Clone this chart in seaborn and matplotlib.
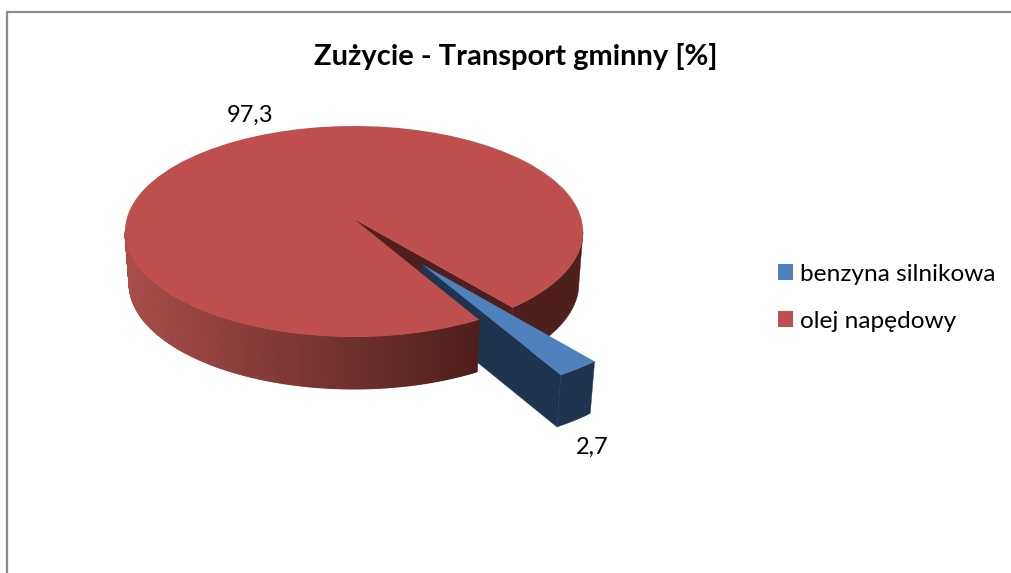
import numpy as np
import matplotlib
matplotlib.use("Agg")
import matplotlib.pyplot as plt
import matplotlib.transforms as mtransforms
from matplotlib.lines import Line2D
import seaborn as sns

# ---- data ----
categories = ["benzyna silnikowa", "olej napędowy"]
shares = [2.7, 97.3]
share_labels = ["2,7", "97,3"]
title = "Zużycie - Transport gminny [%]"

# ---- style ----
BLUE, RED = "#4F81BD", "#BE4F4C"
BLUE_DARK, RED_DARK = "#1F344F", "#4F1F1E"
RED_SIDE_LIGHT = "#A84D4A"
W, H = 1011, 573
APEX_X, APEX_Y = 354, 219      # pie centre on the canvas
SCALE_X, SCALE_Y, TILT = 227.4, 104.0, 0.1185
DEPTH, SHRINK = 52.0, 0.982

sns.set_theme(style="white")
plt.rcParams["font.family"] = ["Lato", "DejaVu Sans"]


def project(u, v):
    """Tilted-disc perspective: pie units to canvas offsets from the centre."""
    u, v = np.asarray(u, float), np.asarray(v, float)
    w = 1 + TILT * v
    return SCALE_X * u / w, SCALE_Y * v / w


def drop(x, y, t=1.0):
    """Move a projected point t of the way down the slab thickness."""
    return x * (1 - (1 - SHRINK) * t), y - DEPTH * t


class Perspective(mtransforms.Transform):
    input_dims = output_dims = 2
    is_separable = False
    has_inverse = False

    def transform_non_affine(self, values):
        x, y = project(values[:, 0], values[:, 1])
        return np.column_stack([x, y])


fig = plt.figure(figsize=(W / 100, H / 100), dpi=100, facecolor="white")
ax = fig.add_axes([0, 0, 1, 1])
wedges, _ = ax.pie(shares, explode=[0.5, 0], startangle=-60.4, radius=1.0,
                   colors=[BLUE, RED], counterclock=True,
                   wedgeprops={"linewidth": 0})
ax.set_aspect("auto")
ax.set_xlim(-APEX_X, W - APEX_X)
ax.set_ylim(APEX_Y - H, APEX_Y)
ax.set_axis_off()

persp = Perspective()
blue, red = wedges
blue.set_radius(0.99)
for w, z in ((red, 4), (blue, 5)):
    w.set_transform(persp + ax.transData)
    w.set_zorder(z)
    w.set_clip_on(False)


def arc(center, r, t1, t2, n=80):
    th = np.radians(np.linspace(t1, t2, n))
    return project(center[0] + r * np.cos(th), center[1] + r * np.sin(th))


def slab_side(x, y, color, z):
    bx, by = drop(x, y)
    ax.fill(np.r_[x, bx[::-1]], np.r_[y, by[::-1]], color=color, lw=0.3, zorder=z)


# angle where the projected disc is widest: the slab's silhouette starts here
widest = np.degrees(np.arcsin(TILT))

# red slab: dark right-hand side and the wall seen inside the notch
notch_end = red.theta1
x, y = arc(red.center, red.r, notch_end, -widest)
slab_side(x, y, RED_DARK, 1)
ex, ey = project([red.center[0], np.cos(np.radians(notch_end))],
                 [red.center[1], np.sin(np.radians(notch_end))])
slab_side(ex, ey, RED_DARK, 1)

# red slab: front side with its left-to-right shading
th = np.radians(np.linspace(180 + widest, red.theta2, 160))
x, y = project(np.cos(th), np.sin(th))
bx, by = drop(x, y)
cmap = sns.blend_palette([RED_SIDE_LIGHT, RED_DARK], as_cmap=True)
shade = (x - x.min()) / (x.max() - x.min())
ax.pcolormesh(np.vstack([x, bx]), np.vstack([y, by]), np.vstack([shade, shade]),
              shading="gouraud", cmap=cmap, vmin=0, vmax=1, zorder=3)

# exploded blue slice: inner wall and outer face
tx, ty = project(
    blue.center[0] + blue.r * np.cos(np.radians(blue.theta1)),
    blue.center[1] + blue.r * np.sin(np.radians(blue.theta1)))
ax_, ay_ = project(*blue.center)
slab_side(np.array([ax_, tx]), np.array([ay_, ty]), BLUE_DARK, 2)
x, y = arc(blue.center, blue.r, blue.theta1, blue.theta2, 20)
slab_side(x, y, BLUE_DARK, 2)

ax.set_xlim(-APEX_X, W - APEX_X)
ax.set_ylim(APEX_Y - H, APEX_Y)

# texts
fig.text(516 / W, 1 - 56 / H, title, ha="center", va="center",
         fontsize=21, fontweight="bold", color="black")
fig.text(250 / W, 1 - 115.5 / H, share_labels[1], ha="center", va="center",
         fontsize=17, color="black")
fig.text(592 / W, 1 - 447.5 / H, share_labels[0], ha="center", va="center",
         fontsize=17, color="black")

leg = ax.legend(wedges, categories, loc="upper left",
                bbox_to_anchor=(778 / W, 1 - 264 / H), bbox_transform=fig.transFigure,
                frameon=False, fontsize=17.6, labelcolor="black",
                handlelength=0.62, handleheight=0.62,
                handletextpad=0.28, labelspacing=1.06, borderpad=0, borderaxespad=0)

# outer chart frame (only the left and top edges fall inside the picture)
frame = "#8C8C8C"
fig.add_artist(Line2D([7 / W, 7 / W], [0, 1 - 12 / H], color=frame, lw=1.6))
fig.add_artist(Line2D([7 / W, 1], [1 - 12 / H, 1 - 12 / H], color=frame, lw=1.6))

fig.savefig("out.png", dpi=100)
